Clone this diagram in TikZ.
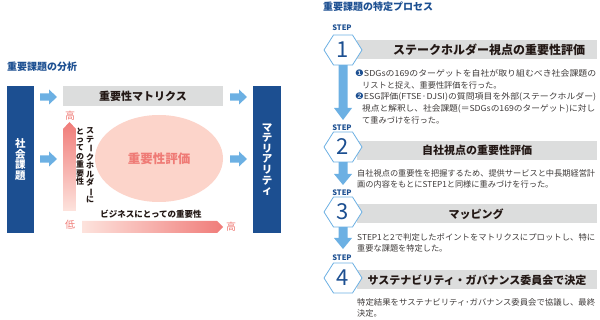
\documentclass[tikz,border=0pt]{standalone}
\usepackage{fontspec}
\usepackage{graphicx}
\usetikzlibrary{shapes.geometric}
\setmainfont{Noto Sans CJK JP}
\newfontfamily\dv{DejaVu Sans}
\definecolor{navy}{HTML}{1C4F91}
\definecolor{lblue}{HTML}{6CB0E3}
\definecolor{gbar}{HTML}{DCDDDD}
\definecolor{pinkfill}{HTML}{FCD4CA}
\definecolor{pinktext}{HTML}{EF7B76}
\definecolor{pinkdark}{HTML}{F07C79}
\definecolor{pinklight}{HTML}{FDE3DD}
\definecolor{bodygray}{HTML}{3E3A39}
\definecolor{headblk}{HTML}{231815}
\newcommand{\vbar}{\rotatebox[origin=c]{-90}{ー}}
\newcommand{\fitw}[2]{\resizebox{#1pt}{\height}{#2}}
\newcommand{\cnum}[1]{{\dv\fontsize{9}{9}\selectfont\textcolor{navy}{#1}}}
\begin{document}
\begin{tikzpicture}[x=1pt,y=-1pt,
  titletxt/.style={font=\bfseries\fontsize{10}{10}\selectfont, text=navy, inner sep=0, anchor=west},
  bodytxt/.style={font=\fontsize{8.2}{10}\selectfont, text=bodygray, inner sep=0, anchor=west},
  headtxt/.style={font=\bfseries\fontsize{11}{11}\selectfont, text=headblk, inner sep=0},
  steplbl/.style={font=\bfseries\fontsize{7.5}{8}\selectfont, text=navy, inner sep=0},
  numtxt/.style={font=\fontsize{22}{22}\selectfont, text=navy, inner sep=0},
  vtxt/.style={align=center, inner sep=0, font=\bfseries\fontsize{8}{8.4}\selectfont, text=headblk},
  navybox/.style={fill=navy, text=white, inner sep=0, align=center, minimum width=27, minimum height=147, font=\bfseries\fontsize{10.5}{10.6}\selectfont},
  pinklbl/.style={font=\fontsize{10}{10}\selectfont, text=pinktext, inner sep=0},
  rarrow/.pic={\fill[lblue] (0,-3.7) -- (9,-3.7) -- (9,-7.5) -- (17,0) -- (9,7.5) -- (9,3.7) -- (0,3.7) -- cycle;},
  hexa/.pic={\filldraw[fill=white, draw=lblue, line width=0.8pt] (-19,0) -- (-9.5,-15) -- (9.5,-15) -- (19,0) -- (9.5,15) -- (-9.5,15) -- cycle;}
]
\useasboundingbox (0,0) rectangle (600,320);

% ---------- left: analysis ----------
\node[titletxt] (lt) at (7,67) {重要課題の分析};
\node[navybox] (soc) at (20.5,159.5) {社\\会\\課\\題};
\node[navybox, minimum width=28] (mty) at (267,159.5) {マ\\テ\\リ\\ア\\リ\\テ\\ィ};
\node[fill=gbar, minimum width=160, minimum height=20, headtxt] (mat) at (143,96) {重要性マトリクス};
\pic at (40,97) {rarrow};
\pic at (40,159) {rarrow};
\pic at (230,97) {rarrow};
\pic at (230,159) {rarrow};
\node[ellipse, fill=pinkfill, minimum width=128, minimum height=87, inner sep=0,
  font=\bfseries\fontsize{12.5}{12.5}\selectfont, text=pinktext] (ev) at (159,158.5) {重要性評価};
\shade[top color=pinkdark, bottom color=pinklight] (63,211) -- (63,129) -- (69.5,122) -- (76,129) -- (76,211) -- cycle;
\shade[left color=pinklight, right color=pinkdark] (82,221) -- (217,221) -- (223,227) -- (217,233) -- (82,233) -- cycle;
\node[pinklbl] (hi1) at (70,116) {高};
\node[pinklbl] (lo) at (70,225) {低};
\node[pinklbl] (hi2) at (231,227) {高};
\node[font=\bfseries\fontsize{8.5}{8.5}\selectfont, text=headblk, inner sep=0] (biz) at (151,214) {ビジネスにとっての重要性};
\node[vtxt, anchor=north] (sh1) at (90,127.5) {ス\\テ\\\vbar\\ク\\ホ\\ル\\ダ\\\vbar\\に};
\node[vtxt, anchor=north] (sh2) at (80,127.5) {と\\っ\\て\\の\\重\\要\\性};

% ---------- right: process ----------
\node[titletxt] (rt) at (323,7) {重要課題の特定プロセス};

% arrows between steps
\fill[lblue] (338.5,64) -- (347.5,64) -- (347.5,108) -- (352,108) -- (343,120) -- (334,108) -- (338.5,108) -- cycle;
\fill[lblue] (338.5,161) -- (347.5,161) -- (347.5,174) -- (352,174) -- (343,185) -- (334,174) -- (338.5,174) -- cycle;
\fill[lblue] (338.5,226) -- (347.5,226) -- (347.5,238) -- (352,238) -- (343,249) -- (334,238) -- (338.5,238) -- cycle;

% bars
\fill[gbar] (357,40) rectangle (597,59);
\fill[gbar] (357,141) rectangle (597,160);
\fill[gbar] (357,204.5) rectangle (597,223.5);
\fill[gbar] (357,270.5) rectangle (597,289.5);

% hexagons
\pic at (343,50) {hexa};
\pic at (343,147) {hexa};
\pic at (343,212) {hexa};
\pic at (343,278) {hexa};

\node[numtxt] (n1) at (343,50) {1};
\node[numtxt] (n2) at (343,147) {2};
\node[numtxt] (n3) at (343,212) {3};
\node[numtxt] (n4) at (343,278) {4};

\node[steplbl] (s1) at (342,28) {STEP};
\node[steplbl] (s2) at (342,128) {STEP};
\node[steplbl] (s3) at (342,192.5) {STEP};
\node[steplbl] (s4) at (342,257.5) {STEP};

\node[headtxt, font=\bfseries\fontsize{12}{12}\selectfont] (h1) at (489,49.5) {ステークホルダー視点の重要性評価};
\node[headtxt] (h2) at (477,150.5) {自社視点の重要性評価};
\node[headtxt] (h3) at (476,214) {マッピング};
\node[headtxt] (h4) at (477,280) {サステナビリティ・ガバナンス委員会で決定};

% body texts
\node[bodytxt] (b1a) at (355,73) {\fitw{241}{\cnum{❶}SDGsの169のターゲットを自社が取り組むべき社会課題の}};
\node[bodytxt] (b1b) at (362,85) {リストと捉え、重要性評価を行った。};
\node[bodytxt] (b1c) at (355,97) {\fitw{241}{\cnum{❷}ESG評価(FTSE·DJSI)の質問項目を外部(ステークホルダー)}};
\node[bodytxt] (b1d) at (362,108.5) {\fitw{233}{視点と解釈し、社会課題(＝SDGsの169のターゲット)に対し}};
\node[bodytxt] (b1e) at (362,120) {て重みづけを行った。};

\node[bodytxt] (b2a) at (357,173) {\fitw{238}{自社視点の重要性を把握するため、提供サービスと中長期経営計}};
\node[bodytxt] (b2b) at (357,184) {画の内容をもとにSTEP1と同様に重みづけを行った。};

\node[bodytxt] (b3a) at (357,237) {\fitw{238}{STEP1と2で判定したポイントをマトリクスにプロットし、特に}};
\node[bodytxt] (b3b) at (357,248) {重要な課題を特定した。};

\node[bodytxt] (b4a) at (357,302) {\fitw{238}{特定結果をサステナビリティ･ガバナンス委員会で協議し、最終}};
\node[bodytxt] (b4b) at (357,313) {決定。};
\end{tikzpicture}
\end{document}
